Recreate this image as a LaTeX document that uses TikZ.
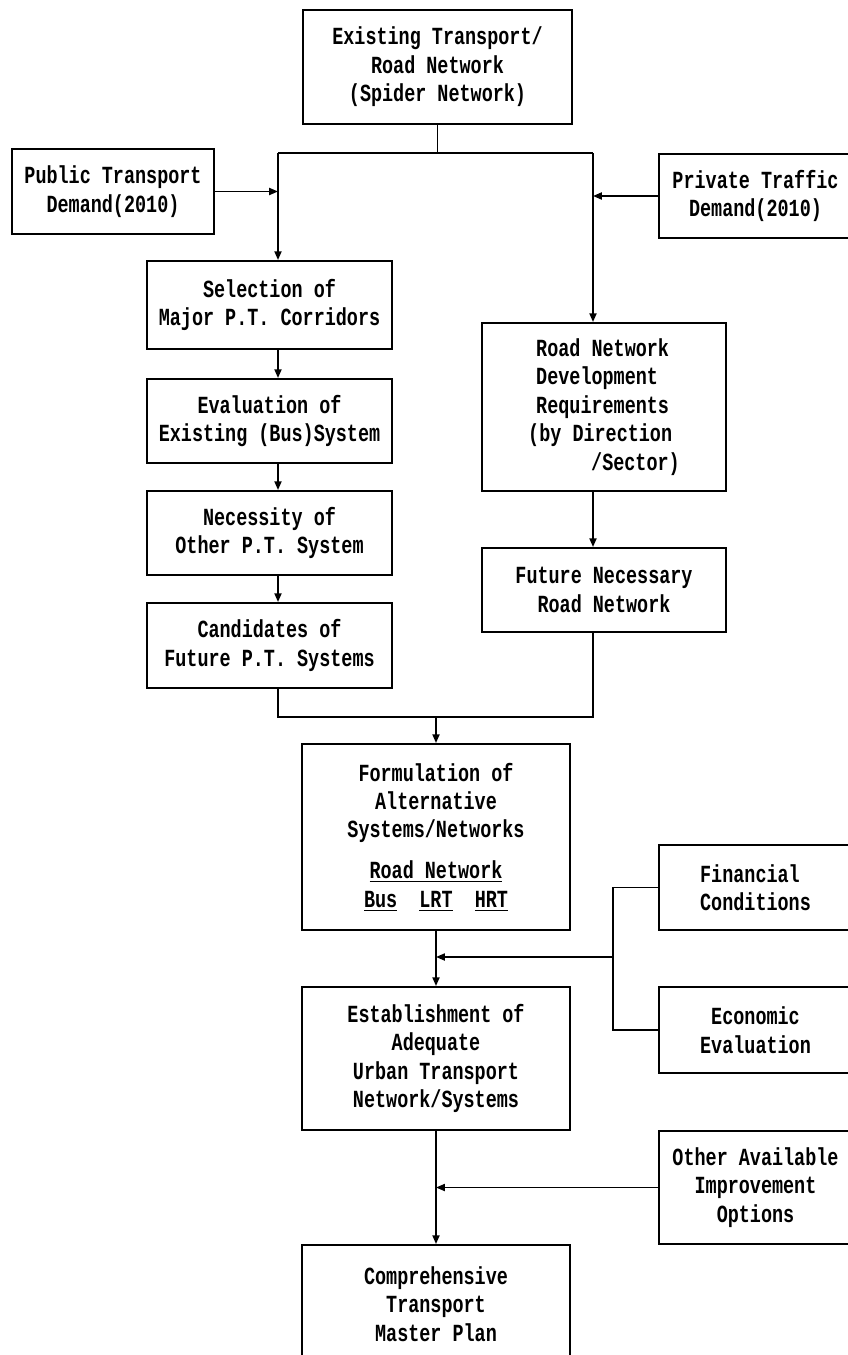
\documentclass[tikz,border=0pt]{standalone}
\usepackage{fontspec}
\newfontfamily\flowfont[FakeStretch=0.75]{Liberation Mono}
\usetikzlibrary{arrows.meta}

\begin{document}
\begin{tikzpicture}[x=0.02cm, y=-0.02cm,
    box/.style={draw, line width=1.1pt, align=center, inner sep=0pt,
      font=\flowfont\bfseries\fontsize{14pt}{16.2pt}\selectfont},
    colbox/.style={box, minimum width=4.9cm, minimum height=1.68cm},
    sidebox/.style={box, minimum width=3.86cm, minimum height=1.70cm},
    mainbox/.style={box, minimum width=5.36cm},
    line/.style={line width=1.1pt},
    feed/.style={line width=0.9pt},
    arr/.style={-{Triangle[length=5pt,width=4pt]}}]
  \useasboundingbox (0,0) rectangle (848,1355);
  \clip (0,0) rectangle (848,1355);

  % top of the chart
  \node[box, minimum width=5.38cm, minimum height=2.28cm] (exist) at (437.5,67)
    {Existing Transport/\\Road Network\\(Spider Network)};
  \node[box, minimum width=4.04cm, minimum height=1.70cm] (pub) at (113,191.5)
    {Public Transport\\Demand(2010)};
  \node[sidebox, minimum height=1.68cm] (priv) at (755.5,196)
    {Private Traffic\\Demand(2010)};

  % public transport column
  \node[colbox, minimum height=1.76cm] (sel) at (269.5,305)
    {Selection of\\Major P.T. Corridors};
  \node[colbox] (eval) at (269.5,421) {Evaluation of\\Existing (Bus)System};
  \node[colbox] (nec) at (269.5,533) {Necessity of\\Other P.T. System};
  \node[colbox, minimum height=1.70cm] (cand) at (269.5,645.5)
    {Candidates of\\Future P.T. Systems};

  % road column
  \node[box, minimum width=4.88cm, minimum height=3.36cm, align=left] (road) at (604,407)
    {\hspace*{0.16cm}Road Network\\\hspace*{0.16cm}Development\\\hspace*{0.16cm}Requirements\\(by Direction\\\hspace*{1.26cm}/Sector)};
  \node[box, minimum width=4.88cm, minimum height=1.68cm] (fut) at (604,590)
    {Future Necessary\\Road Network};

  % lower part
  \node[mainbox, minimum height=3.72cm] (form) at (436,837)
    {Formulation of\\Alternative\\Systems/Networks\\[0.25cm]\underline{Road Network}\\\underline{Bus}~~\underline{LRT}~~\underline{HRT}};
  \node[sidebox, align=left] (fin) at (755.5,887.5) {Financial\\Conditions};
  \node[sidebox, minimum height=1.72cm] (econ) at (755.5,1030) {Economic\\Evaluation};
  \node[mainbox, minimum height=2.86cm] (estab) at (436,1058.5)
    {Establishment of\\Adequate\\Urban Transport\\Network/Systems};
  \node[sidebox, minimum height=2.26cm] (other) at (755.5,1187.5)
    {Other Available\\Improvement\\Options};
  \node[mainbox, minimum height=2.36cm] (comp) at (436,1304)
    {Comprehensive\\Transport\\Master Plan};

  % connectors
  \coordinate (tl) at (278,153);
  \coordinate (tr) at (593,153);
  \coordinate (bl) at (278,717);
  \coordinate (br) at (593,717);
  \coordinate (brk) at (613,957);

  \draw[line] (exist) -- (exist |- tl);
  \draw[line] (tl) -- (tr);
  \draw[line, arr] (tl) -- (tl |- sel.north);
  \draw[line, arr] (tr) -- (tr |- road.north);
  \draw[feed, arr] (pub.east) -- (pub.east -| tl);
  \draw[feed, arr] (priv.west) -- (priv.west -| tr);
  \foreach \a/\b in {sel/eval, eval/nec, nec/cand}
    \draw[line, arr] (\a.south -| tl) -- (\b.north -| tl);
  \draw[line, arr] (road.south -| tr) -- (fut.north -| tr);
  \draw[line] (cand.south -| bl) -- (bl) -- (br) -- (fut.south -| br);
  \draw[line, arr] (form.north |- bl) -- (form.north);
  \draw[line, arr] (form) -- (estab);
  \draw[feed] (fin.west) -| (brk) |- (econ.west);
  \draw[feed, arr] (brk) -- (brk -| estab.north);
  \draw[line, arr] (estab) -- (comp);
  \draw[feed, arr] (other.west) -- (other.west -| estab.south);
\end{tikzpicture}
\end{document}
